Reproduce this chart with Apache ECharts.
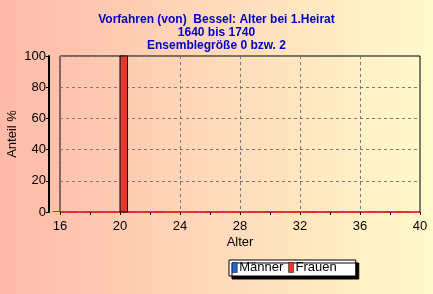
<!DOCTYPE html>
<html><head><meta charset="utf-8">
<script src="https://cdn.jsdelivr.net/npm/echarts@6/dist/echarts.min.js"></script>
<style>html,body{margin:0;padding:0;}#c{width:433px;height:294px;}</style>
</head><body><div id="c"></div>
<script>
const ages = [16,17,18,19,20,21,22,23,24,25,26,27,28,29,30,31,32,33,34,35,36,37,38,39];
const maenner = [0,0,0,0,0,0,0,0,0,0,0,0,0,0,0,0,0,0,0,0,0,0,0,0];
const frauen  = [0,0,0,0,100,0,0,0,0,0,0,0,0,0,0,0,0,0,0,0,0,0,0,0];
const xTicks = [16,20,24,28,32,36,40];
const yTicks = [0,20,40,60,80,100];
const titleLines = ['Vorfahren (von)  Bessel: Alter bei 1.Heirat','1640 bis 1740','Ensemblegröße 0 bzw. 2'];

const chart = echarts.init(document.getElementById('c'), null, {renderer:'canvas'});
function barItem(offset, color){
  return function(params, api){
    const x = api.value(0), y = api.value(1);
    const p0 = api.coord([x+offset, 0]);
    const p1 = api.coord([x+offset+0.5, y]);
    const w = p1[0]-p0[0], h = p0[1]-p1[1];
    if (h <= 0) {
      return {type:'rect', shape:{x:p0[0], y:p0[1]-1, width:w, height:1}, style:{fill:color}};
    }
    return {type:'rect', shape:{x:p0[0], y:p1[1], width:w, height:h},
      style:{fill:color, stroke:'#000', lineWidth:1}};
  };
}
const F = 'Liberation Sans, Arial';
chart.setOption({
  backgroundColor: {type:'linear', x:0, y:0, x2:1, y2:0,
    colorStops:[{offset:0,color:'#FFB9A9'},{offset:1,color:'#FFFACB'}]},
  animation:false,
  title: {text: titleLines.join('\n'), left:'center', top:8,
    textStyle:{color:'#0000C8', fontFamily:F, fontSize:12, fontWeight:'bold', lineHeight:13}},
  legend: {data:['Männer','Frauen'], left:229, top:260, orient:'horizontal',
    itemWidth:5, itemHeight:10, itemGap:5, padding:[0,19,1,3],
    backgroundColor:'#fff', borderColor:'#000', borderWidth:1,
    shadowColor:'#000', shadowOffsetX:3, shadowOffsetY:3, shadowBlur:0,
    itemStyle:{borderColor:'#000', borderWidth:0.5},
    textStyle:{fontFamily:F, fontSize:13, color:'#000', padding:[0,0,0,-3], lineHeight:15},
    icon:'rect'},
  grid: {left:60, right:13, top:56, bottom:82, outerBoundsMode:'none', containLabel:false,
    show:true, borderColor:'#000', borderWidth:1, backgroundColor:'transparent'},
  xAxis: {type:'value', min:16, max:40, interval:4,
    name:'Alter', nameLocation:'middle', nameGap:24, nameMoveOverlap:false,
    nameTextStyle:{fontFamily:F, fontSize:13, color:'#000'},
    axisLine:{show:true, lineStyle:{color:'#E03030', width:1}},
    axisTick:{show:true, length:3, lineStyle:{color:'#000'}},
    minorTick:{show:true, splitNumber:2, length:3, lineStyle:{color:'#000'}},
    axisLabel:{fontFamily:F, fontSize:13, color:'#000', margin:8},
    splitLine:{show:true, lineStyle:{color:'#777', type:[3,3], width:1}}},
  yAxis: {type:'value', min:0, max:100, interval:20, offset:11,
    name:'Anteil %', nameLocation:'middle', nameGap:30, nameRotate:90, nameMoveOverlap:false,
    nameTextStyle:{fontFamily:F, fontSize:13, color:'#000'},
    axisLine:{show:true, lineStyle:{color:'#000', width:2}},
    axisTick:{show:true, length:3, lineStyle:{color:'#000'}},
    axisLabel:{fontFamily:F, fontSize:13, color:'#000', margin:3},
    splitLine:{show:true, lineStyle:{color:'#777', type:[3,3], width:1}}},
  series: [
    {name:'Männer', type:'custom', color:'#1E6AD0', renderItem:barItem(-0.5,'#1E6AD0'),
     data: ages.map((a,i)=>[a, maenner[i]]), encode:{x:0,y:1}},
    {name:'Frauen', type:'custom', color:'#E8382E', renderItem:barItem(0,'#E8382E'),
     data: ages.map((a,i)=>[a, frauen[i]]), encode:{x:0,y:1}}
  ]
});
</script></body></html>
